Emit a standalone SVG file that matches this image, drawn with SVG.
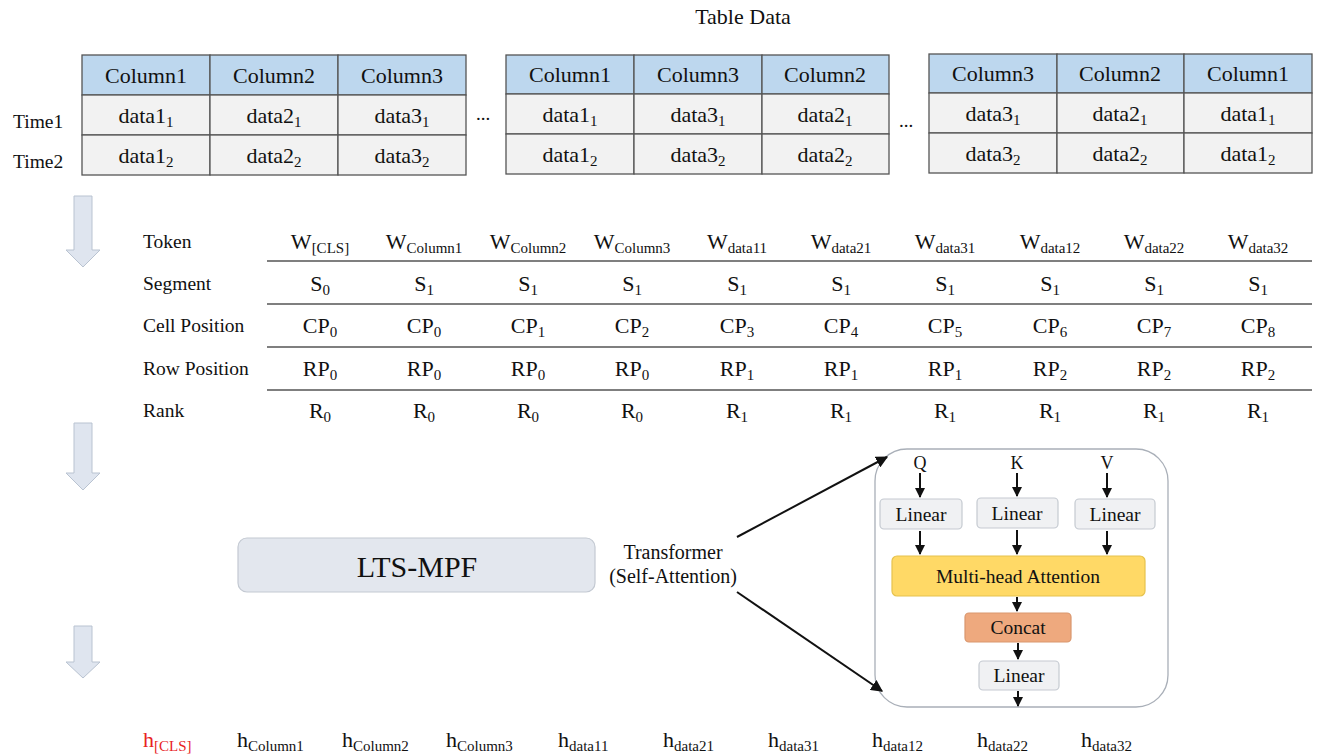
<svg xmlns="http://www.w3.org/2000/svg" width="1320" height="756" viewBox="0 0 1320 756">
<defs>
<style>
text{font-family:"Liberation Serif","Times New Roman",serif;fill:#111}
.t{font-size:22px;text-anchor:middle}
.tsub{font-size:15px}
.lbl{font-size:19.5px}
.v{font-size:22px;text-anchor:middle}
.sub{font-size:15px}
.hdr{fill:#bdd7ee;stroke:#555;stroke-width:1.3}
.cell{fill:#f2f2f2;stroke:#555;stroke-width:1.3}
.rule{stroke:#555;stroke-width:1.5}
.blk{fill:#dfe5ef;stroke:#b9c3d1;stroke-width:1}
.lin{fill:#f0f1f3;stroke:#c5cad1;stroke-width:1.2}
.conn{stroke:#111;stroke-width:2;fill:none}
.box{font-size:19.5px;text-anchor:middle}
.h{font-size:22px}
</style>
<marker id="ah" viewBox="0 0 10 10" refX="9" refY="5" markerWidth="5" markerHeight="5" orient="auto" markerUnits="strokeWidth">
<path d="M0,0 L10,5 L0,10 z" fill="#111"/>
</marker>
<marker id="ah2" viewBox="0 0 10 10" refX="9" refY="5" markerWidth="6" markerHeight="6" orient="auto" markerUnits="strokeWidth">
<path d="M0,0 L10,5 L0,10 z" fill="#111"/>
</marker>
</defs>
<rect width="1320" height="756" fill="#fff"/>

<text x="743" y="24" style="font-size:22px" text-anchor="middle">Table Data</text>

<g id="table1">
<rect class="hdr" x="82" y="55" width="128" height="40"/>
<rect class="hdr" x="210" y="55" width="128" height="40"/>
<rect class="hdr" x="338" y="55" width="128" height="40"/>
<rect class="cell" x="82" y="95" width="128" height="40"/>
<rect class="cell" x="210" y="95" width="128" height="40"/>
<rect class="cell" x="338" y="95" width="128" height="40"/>
<rect class="cell" x="82" y="135" width="128" height="40"/>
<rect class="cell" x="210" y="135" width="128" height="40"/>
<rect class="cell" x="338" y="135" width="128" height="40"/>
<text class="t" x="146" y="83">Column1</text>
<text class="t" x="274" y="83">Column2</text>
<text class="t" x="402" y="83">Column3</text>
<text class="t" x="146" y="123">data1<tspan class="tsub" dy="4">1</tspan></text>
<text class="t" x="274" y="123">data2<tspan class="tsub" dy="4">1</tspan></text>
<text class="t" x="402" y="123">data3<tspan class="tsub" dy="4">1</tspan></text>
<text class="t" x="146" y="163">data1<tspan class="tsub" dy="4">2</tspan></text>
<text class="t" x="274" y="163">data2<tspan class="tsub" dy="4">2</tspan></text>
<text class="t" x="402" y="163">data3<tspan class="tsub" dy="4">2</tspan></text>
</g>

<g id="time-labels">
<text x="13" y="128" style="font-size:19.5px">Time1</text>
<text x="13" y="168" style="font-size:19.5px">Time2</text>
</g>

<g id="ellipsis">
<text x="476" y="120" style="font-size:19px">...</text>
<text x="899" y="127" style="font-size:19px">...</text>
</g>

<g id="table2">
<rect class="hdr" x="506" y="55" width="128" height="39"/>
<rect class="hdr" x="634" y="55" width="128" height="39"/>
<rect class="hdr" x="762" y="55" width="127" height="39"/>
<rect class="cell" x="506" y="94" width="128" height="40"/>
<rect class="cell" x="634" y="94" width="128" height="40"/>
<rect class="cell" x="762" y="94" width="127" height="40"/>
<rect class="cell" x="506" y="134" width="128" height="40"/>
<rect class="cell" x="634" y="134" width="128" height="40"/>
<rect class="cell" x="762" y="134" width="127" height="40"/>
<text class="t" x="570" y="82">Column1</text>
<text class="t" x="698" y="82">Column3</text>
<text class="t" x="825" y="82">Column2</text>
<text class="t" x="570" y="122">data1<tspan class="tsub" dy="4">1</tspan></text>
<text class="t" x="698" y="122">data3<tspan class="tsub" dy="4">1</tspan></text>
<text class="t" x="825" y="122">data2<tspan class="tsub" dy="4">1</tspan></text>
<text class="t" x="570" y="162">data1<tspan class="tsub" dy="4">2</tspan></text>
<text class="t" x="698" y="162">data3<tspan class="tsub" dy="4">2</tspan></text>
<text class="t" x="825" y="162">data2<tspan class="tsub" dy="4">2</tspan></text>
</g>

<g id="table3">
<rect class="hdr" x="929" y="54" width="128" height="39"/>
<rect class="hdr" x="1057" y="54" width="127" height="39"/>
<rect class="hdr" x="1184" y="54" width="128" height="39"/>
<rect class="cell" x="929" y="93" width="128" height="40"/>
<rect class="cell" x="1057" y="93" width="127" height="40"/>
<rect class="cell" x="1184" y="93" width="128" height="40"/>
<rect class="cell" x="929" y="133" width="128" height="40"/>
<rect class="cell" x="1057" y="133" width="127" height="40"/>
<rect class="cell" x="1184" y="133" width="128" height="40"/>
<text class="t" x="993" y="81">Column3</text>
<text class="t" x="1120" y="81">Column2</text>
<text class="t" x="1248" y="81">Column1</text>
<text class="t" x="993" y="121">data3<tspan class="tsub" dy="4">1</tspan></text>
<text class="t" x="1120" y="121">data2<tspan class="tsub" dy="4">1</tspan></text>
<text class="t" x="1248" y="121">data1<tspan class="tsub" dy="4">1</tspan></text>
<text class="t" x="993" y="161">data3<tspan class="tsub" dy="4">2</tspan></text>
<text class="t" x="1120" y="161">data2<tspan class="tsub" dy="4">2</tspan></text>
<text class="t" x="1248" y="161">data1<tspan class="tsub" dy="4">2</tspan></text>
</g>

<g id="flow-arrows">
<path class="blk" d="M74,196 H92 V250 H100 L83,267 L66,250 H74 Z"/>
<path class="blk" d="M74,423 H92 V473 H100 L83,490 L66,473 H74 Z"/>
<path class="blk" d="M74,626 H92 V662 H100 L83,678 L66,662 H74 Z"/>
</g>

<g id="embedding-table">
<text class="lbl" x="143" y="248">Token</text>
<text class="lbl" x="143" y="290">Segment</text>
<text class="lbl" x="143" y="332">Cell Position</text>
<text class="lbl" x="143" y="375">Row Position</text>
<text class="lbl" x="143" y="417">Rank</text>
<line class="rule" x1="267" y1="261" x2="1312" y2="261"/>
<line class="rule" x1="267" y1="304" x2="1312" y2="304"/>
<line class="rule" x1="267" y1="347" x2="1312" y2="347"/>
<line class="rule" x1="267" y1="390" x2="1312" y2="390"/>

<text class="v" x="320" y="249">W<tspan class="sub" dy="4">[CLS]</tspan></text>
<text class="v" x="424" y="249">W<tspan class="sub" dy="4">Column1</tspan></text>
<text class="v" x="528" y="249">W<tspan class="sub" dy="4">Column2</tspan></text>
<text class="v" x="632" y="249">W<tspan class="sub" dy="4">Column3</tspan></text>
<text class="v" x="737" y="249">W<tspan class="sub" dy="4">data11</tspan></text>
<text class="v" x="841" y="249">W<tspan class="sub" dy="4">data21</tspan></text>
<text class="v" x="945" y="249">W<tspan class="sub" dy="4">data31</tspan></text>
<text class="v" x="1050" y="249">W<tspan class="sub" dy="4">data12</tspan></text>
<text class="v" x="1154" y="249">W<tspan class="sub" dy="4">data22</tspan></text>
<text class="v" x="1258" y="249">W<tspan class="sub" dy="4">data32</tspan></text>

<text class="v" x="320" y="291">S<tspan class="sub" dy="4">0</tspan></text>
<text class="v" x="424" y="291">S<tspan class="sub" dy="4">1</tspan></text>
<text class="v" x="528" y="291">S<tspan class="sub" dy="4">1</tspan></text>
<text class="v" x="632" y="291">S<tspan class="sub" dy="4">1</tspan></text>
<text class="v" x="737" y="291">S<tspan class="sub" dy="4">1</tspan></text>
<text class="v" x="841" y="291">S<tspan class="sub" dy="4">1</tspan></text>
<text class="v" x="945" y="291">S<tspan class="sub" dy="4">1</tspan></text>
<text class="v" x="1050" y="291">S<tspan class="sub" dy="4">1</tspan></text>
<text class="v" x="1154" y="291">S<tspan class="sub" dy="4">1</tspan></text>
<text class="v" x="1258" y="291">S<tspan class="sub" dy="4">1</tspan></text>

<text class="v" x="320" y="333">CP<tspan class="sub" dy="4">0</tspan></text>
<text class="v" x="424" y="333">CP<tspan class="sub" dy="4">0</tspan></text>
<text class="v" x="528" y="333">CP<tspan class="sub" dy="4">1</tspan></text>
<text class="v" x="632" y="333">CP<tspan class="sub" dy="4">2</tspan></text>
<text class="v" x="737" y="333">CP<tspan class="sub" dy="4">3</tspan></text>
<text class="v" x="841" y="333">CP<tspan class="sub" dy="4">4</tspan></text>
<text class="v" x="945" y="333">CP<tspan class="sub" dy="4">5</tspan></text>
<text class="v" x="1050" y="333">CP<tspan class="sub" dy="4">6</tspan></text>
<text class="v" x="1154" y="333">CP<tspan class="sub" dy="4">7</tspan></text>
<text class="v" x="1258" y="333">CP<tspan class="sub" dy="4">8</tspan></text>

<text class="v" x="320" y="376">RP<tspan class="sub" dy="4">0</tspan></text>
<text class="v" x="424" y="376">RP<tspan class="sub" dy="4">0</tspan></text>
<text class="v" x="528" y="376">RP<tspan class="sub" dy="4">0</tspan></text>
<text class="v" x="632" y="376">RP<tspan class="sub" dy="4">0</tspan></text>
<text class="v" x="737" y="376">RP<tspan class="sub" dy="4">1</tspan></text>
<text class="v" x="841" y="376">RP<tspan class="sub" dy="4">1</tspan></text>
<text class="v" x="945" y="376">RP<tspan class="sub" dy="4">1</tspan></text>
<text class="v" x="1050" y="376">RP<tspan class="sub" dy="4">2</tspan></text>
<text class="v" x="1154" y="376">RP<tspan class="sub" dy="4">2</tspan></text>
<text class="v" x="1258" y="376">RP<tspan class="sub" dy="4">2</tspan></text>

<text class="v" x="320" y="418">R<tspan class="sub" dy="4">0</tspan></text>
<text class="v" x="424" y="418">R<tspan class="sub" dy="4">0</tspan></text>
<text class="v" x="528" y="418">R<tspan class="sub" dy="4">0</tspan></text>
<text class="v" x="632" y="418">R<tspan class="sub" dy="4">0</tspan></text>
<text class="v" x="737" y="418">R<tspan class="sub" dy="4">1</tspan></text>
<text class="v" x="841" y="418">R<tspan class="sub" dy="4">1</tspan></text>
<text class="v" x="945" y="418">R<tspan class="sub" dy="4">1</tspan></text>
<text class="v" x="1050" y="418">R<tspan class="sub" dy="4">1</tspan></text>
<text class="v" x="1154" y="418">R<tspan class="sub" dy="4">1</tspan></text>
<text class="v" x="1258" y="418">R<tspan class="sub" dy="4">1</tspan></text>
</g>

<g id="lts-mpf">
<rect x="238" y="538" width="357" height="54" rx="9" fill="#e3e7ee" stroke="#c3c9d2" stroke-width="1.2"/>
<text x="417" y="577" text-anchor="middle" style="font-size:30px">LTS-MPF</text>
</g>

<g id="transformer-label">
<text x="673" y="559" text-anchor="middle" style="font-size:20px">Transformer</text>
<text x="673" y="583" text-anchor="middle" style="font-size:20px">(Self-Attention)</text>
</g>

<g id="attention-block">
<rect x="875" y="449" width="293" height="258" rx="32" fill="#fff" stroke="#a9afb8" stroke-width="1.3"/>
<text x="920" y="469" text-anchor="middle" style="font-size:18px">Q</text>
<text x="1017" y="469" text-anchor="middle" style="font-size:18px">K</text>
<text x="1107" y="469" text-anchor="middle" style="font-size:18px">V</text>
</g>
<g id="linear-q">
<rect class="lin" x="880" y="499" width="82" height="30" rx="4"/>
<text class="box" x="921" y="521">Linear</text>
</g>
<g id="linear-k">
<rect class="lin" x="977" y="498" width="81" height="30" rx="4"/>
<text class="box" x="1017" y="520">Linear</text>
</g>
<g id="linear-v">
<rect class="lin" x="1075" y="499" width="80" height="30" rx="4"/>
<text class="box" x="1115" y="521">Linear</text>
</g>
<g id="multihead">
<rect x="892" y="556" width="253" height="40" rx="5" fill="#ffd966" stroke="#e6c24d" stroke-width="1.2"/>
<text class="box" x="1018" y="583">Multi-head Attention</text>
</g>
<g id="concat">
<rect x="965" y="613" width="106" height="29" rx="4" fill="#eea97e" stroke="#d9976e" stroke-width="1.2"/>
<text class="box" x="1018" y="634">Concat</text>
</g>
<g id="linear-out">
<rect class="lin" x="979" y="661" width="80" height="29" rx="4"/>
<text class="box" x="1019" y="682">Linear</text>
</g>

<g id="connectors">
<line class="conn" x1="737" y1="537" x2="887" y2="457" marker-end="url(#ah2)"/>
<line class="conn" x1="737" y1="592" x2="882" y2="691" marker-end="url(#ah2)"/>
<line class="conn" x1="920" y1="473" x2="920" y2="497" marker-end="url(#ah)"/>
<line class="conn" x1="1017" y1="473" x2="1017" y2="496" marker-end="url(#ah)"/>
<line class="conn" x1="1107" y1="473" x2="1107" y2="497" marker-end="url(#ah)"/>
<line class="conn" x1="920" y1="531" x2="920" y2="554" marker-end="url(#ah)"/>
<line class="conn" x1="1017" y1="530" x2="1017" y2="554" marker-end="url(#ah)"/>
<line class="conn" x1="1107" y1="531" x2="1107" y2="554" marker-end="url(#ah)"/>
<line class="conn" x1="1017" y1="597" x2="1017" y2="611" marker-end="url(#ah)"/>
<line class="conn" x1="1018" y1="643" x2="1018" y2="659" marker-end="url(#ah)"/>
<line class="conn" x1="1018" y1="691" x2="1018" y2="706" marker-end="url(#ah)"/>
</g>

<g id="outputs">
<text class="h" x="143" y="747" style="fill:#e8231f">h<tspan class="sub" dy="4" style="fill:#e8231f">[CLS]</tspan></text>
<text class="h" x="237" y="747">h<tspan class="sub" dy="4">Column1</tspan></text>
<text class="h" x="342" y="747">h<tspan class="sub" dy="4">Column2</tspan></text>
<text class="h" x="446" y="747">h<tspan class="sub" dy="4">Column3</tspan></text>
<text class="h" x="558" y="747">h<tspan class="sub" dy="4">data11</tspan></text>
<text class="h" x="663" y="747">h<tspan class="sub" dy="4">data21</tspan></text>
<text class="h" x="768" y="747">h<tspan class="sub" dy="4">data31</tspan></text>
<text class="h" x="872" y="747">h<tspan class="sub" dy="4">data12</tspan></text>
<text class="h" x="977" y="747">h<tspan class="sub" dy="4">data22</tspan></text>
<text class="h" x="1081" y="747">h<tspan class="sub" dy="4">data32</tspan></text>
</g>
</svg>
